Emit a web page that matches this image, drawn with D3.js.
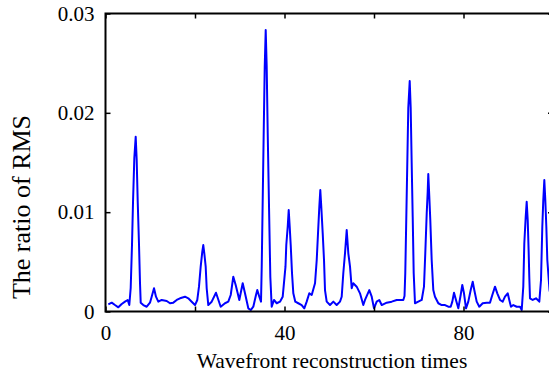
<!DOCTYPE html>
<html>
<head>
<meta charset="utf-8">
<script src="https://cdn.jsdelivr.net/npm/d3@7"></script>
<style>
  body { margin: 0; background: #fff; }
  text { font-family: "Liberation Serif", "Times New Roman", serif; }
</style>
</head>
<body>
<svg id="chart" width="549" height="373"></svg>
<script>
// x values (reconstruction index)
var times = [0.63,1.39,2.12,2.86,3.62,4.36,4.96,5.32,5.63,5.92,6.15,6.44,6.75,6.97,7.20,7.49,7.71,7.87,8.45,9.21,
  9.94,10.32,10.84,11.28,11.80,12.56,13.68,14.41,15.15,15.91,16.65,17.77,18.50,19.26,20.0,20.51,20.89,21.27,21.63,21.85,
  22.08,22.39,22.61,22.97,23.73,24.69,25.74,26.70,27.44,27.98,28.56,29.09,29.54,29.90,30.66,31.17,31.91,32.45,33.03,33.63,
  33.92,34.37,34.75,34.91,35.13,35.35,35.58,35.80,36.02,36.25,36.54,36.83,37.14,37.65,38.26,38.99,39.60,40.22,40.40,40.72,
  40.94,41.16,41.39,41.68,41.97,42.41,43.08,43.84,44.42,44.96,45.54,46.08,46.82,47.20,47.49,47.78,48.0,48.22,48.54,48.83,
  49.05,49.43,50.17,50.91,51.66,52.40,52.78,53.14,53.52,53.90,54.26,54.64,55.02,55.37,56.13,56.87,57.61,57.99,58.95,59.49,
  60.0,60.60,61.18,61.72,62.84,63.96,65.07,66.55,66.82,66.99,67.22,67.44,67.66,67.98,68.20,68.42,68.65,68.87,69.16,69.90,
  70.66,71.17,71.46,71.78,72.0,72.13,72.36,72.58,72.89,73.25,73.63,74.37,75.13,75.87,76.60,77.14,77.50,77.88,78.32,78.84,
  79.37,79.73,80.11,80.56,81.07,81.61,82.06,82.41,82.95,83.53,84.29,85.18,85.92,86.44,87.04,87.55,88.16,88.76,89.27,89.88,
  90.23,90.61,91.13,91.89,92.63,93.01,93.36,93.59,93.90,94.12,94.35,94.57,94.70,94.86,95.46,96.20,96.94,97.32,97.61,97.83,
  98.06,98.28,98.51,98.73,99.22,99.78];

// ratio of RMS, in units of 1e-3
var ratio = [0.72,0.89,0.65,0.42,0.76,0.99,1.16,0.65,2.37,6.69,11.05,15.45,17.60,15.25,11.05,6.69,2.87,0.89,0.65,0.48,
  0.89,1.49,2.34,1.49,0.99,1.16,1.06,0.83,0.89,1.16,1.33,1.49,1.33,0.99,0.65,1.16,2.50,4.51,6.02,6.69,
  5.86,4.51,2.34,0.65,0.99,1.89,0.48,0.83,0.99,1.66,3.50,2.67,1.83,1.16,2.84,1.83,0.32,0.15,0.48,1.66,
  2.16,1.49,0.99,4.51,11.23,17.94,24.65,28.34,24.65,17.94,10.55,3.50,0.48,1.16,0.83,0.99,1.49,4.51,6.69,8.54,
  10.22,8.54,6.69,3.85,1.83,0.99,0.83,0.65,0.32,0.99,1.83,1.66,2.84,5.18,7.87,10.55,12.23,10.55,7.87,5.18,
  2.16,0.99,0.65,0.99,0.65,0.99,1.49,3.85,5.86,8.20,5.86,4.51,2.34,2.84,2.50,1.83,0.65,1.16,2.16,1.49,
  0.32,0.99,1.16,0.65,0.89,0.99,1.16,1.16,1.56,3.88,9.51,14.92,20.49,23.21,20.49,14.92,9.51,3.88,0.83,0.99,
  1.16,2.50,5.86,9.89,12.06,13.84,11.56,9.21,5.18,2.16,1.49,0.83,0.65,0.65,0.48,0.48,0.99,1.89,1.16,0.32,
  1.66,2.67,1.83,0.32,0.99,2.16,3.00,2.16,0.99,0.48,0.83,0.89,0.89,1.66,2.50,1.83,1.16,0.99,1.49,1.83,
  1.16,0.48,0.65,0.48,0.48,0.15,2.50,6.87,9.54,11.05,9.21,5.86,3.50,1.33,1.16,1.33,0.99,3.17,8.54,11.23,
  13.24,11.23,8.54,5.18,2.16,0.96];

var xTicks = [0, 20, 40, 60, 80, 100];
var xLabelled = [0, 40, 80];
var yTicks = [0, 0.01, 0.02, 0.03];

var svg = d3.select("#chart");
var plotL = 105.5, plotR = 553, plotT = 13.5, plotB = 311.5;
var serif = "'Liberation Serif', 'Times New Roman', serif";

var x = d3.scaleLinear().domain([0, 100]).range([plotL, plotR]);
var y = d3.scaleLinear().domain([0, 0.03]).range([plotB, plotT]);

var points = times.map(function(t, i) { return [t, ratio[i] / 1000]; });

svg.append("clipPath").attr("id", "plotclip")
  .append("rect")
  .attr("x", plotL).attr("y", plotT)
  .attr("width", plotR - plotL).attr("height", plotB - plotT);

var line = d3.line()
  .x(function(d) { return x(d[0]); })
  .y(function(d) { return y(d[1]); });

svg.append("path")
  .datum(points)
  .attr("clip-path", "url(#plotclip)")
  .attr("d", line)
  .attr("fill", "none")
  .attr("stroke", "#0000ff")
  .attr("stroke-width", 2)
  .attr("stroke-linejoin", "round");

// axes: ticks point inwards, MATLAB style
var xFmt = function(d) { return xLabelled.indexOf(d) >= 0 ? d : ""; };

var xBottom = svg.append("g")
  .attr("transform", "translate(0," + plotB + ")")
  .call(d3.axisBottom(x).tickValues(xTicks).tickFormat(xFmt)
    .tickSizeInner(-5).tickSizeOuter(0).tickPadding(14));

var xTop = svg.append("g")
  .attr("transform", "translate(0," + plotT + ")")
  .call(d3.axisTop(x).tickValues(xTicks).tickFormat("")
    .tickSizeInner(-5).tickSizeOuter(0));

var yLeft = svg.append("g")
  .attr("transform", "translate(" + plotL + ",0)")
  .call(d3.axisLeft(y).tickValues(yTicks).tickFormat(function(d) { return d === 0 ? "0" : d3.format(".2f")(d); })
    .tickSizeInner(-5).tickSizeOuter(0).tickPadding(11));

var yRight = svg.append("g")
  .attr("transform", "translate(" + plotR + ",0)")
  .call(d3.axisRight(y).tickValues(yTicks).tickFormat("")
    .tickSizeInner(-5).tickSizeOuter(0));

[xBottom, xTop, yLeft, yRight].forEach(function(g) {
  g.attr("font-family", serif).attr("font-size", 21);
  g.select(".domain").remove();
  g.selectAll("line").attr("stroke", "#000").attr("stroke-width", 1.5);
  g.selectAll("text").attr("fill", "#000");
});

svg.append("rect")
  .attr("x", plotL).attr("y", plotT)
  .attr("width", plotR - plotL).attr("height", plotB - plotT)
  .attr("fill", "none")
  .attr("stroke", "#000")
  .attr("stroke-width", 2);

svg.append("text")
  .attr("x", 332)
  .attr("y", 368)
  .attr("text-anchor", "middle")
  .attr("font-family", serif)
  .attr("font-size", 21.5)
  .text("Wavefront reconstruction times");

svg.append("text")
  .attr("transform", "translate(30,207) rotate(-90)")
  .attr("text-anchor", "middle")
  .attr("font-family", serif)
  .attr("font-size", 26)
  .text("The ratio of RMS");
</script>
</body>
</html>
